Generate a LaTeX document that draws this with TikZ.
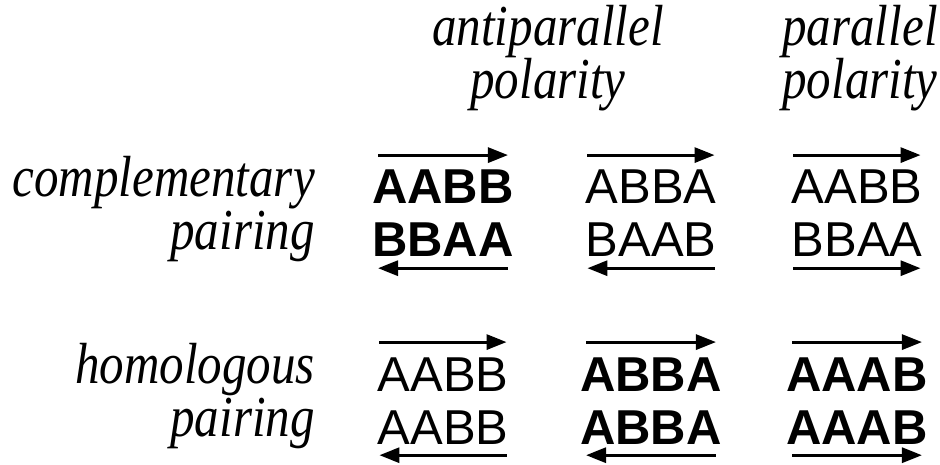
\documentclass[tikz,border=0pt]{standalone}
\usepackage{fontspec}
\setmainfont{Liberation Serif}
\setsansfont{Liberation Sans}
\newfontfamily\narrowserif{Liberation Serif}[FakeStretch=0.845]
\usetikzlibrary{arrows.meta}

\begin{document}
\begin{tikzpicture}[x=1pt,y=-1pt,
  head/.style={font=\fontsize{58}{47}\selectfont\narrowserif\itshape,inner sep=0pt,align=center,anchor=base},
  lbl/.style={font=\fontsize{58}{53}\selectfont\narrowserif\itshape,inner sep=0pt,align=right,anchor=base east},
  seq/.style={font=\fontsize{49}{49}\selectfont\sffamily,inner sep=0pt,anchor=base},
  bseq/.style={font=\fontsize{49}{49}\selectfont\sffamily\bfseries,inner sep=0pt,anchor=base},
  strand/.style={line width=3pt,-{Triangle[length=20pt,width=15pt]}}]
\useasboundingbox (0,0) rectangle (940,465);

% column and row headings (base = last line)
\node (anti) at (548,99)[head] {antiparallel\\polarity};
\node (para) at (860,99)[head] {parallel\\polarity};
\node (comp) at (315,250)[lbl] {complementary\\pairing};
\node (homo) at (315,436)[lbl] {homologous\\pairing};

% complementary pairing
\node (c1t) at (443,204)[bseq] {AABB};
\node (c1b) at (443,257)[bseq] {BBAA};
\node (c2t) at (651,204)[seq] {ABBA};
\node (c2b) at (651,257)[seq] {BAAB};
\node (c3t) at (857,204)[seq] {AABB};
\node (c3b) at (857,257)[seq] {BBAA};

% homologous pairing
\node (h1t) at (443,391)[seq] {AABB};
\node (h1b) at (443,444)[seq] {AABB};
\node (h2t) at (651,391)[bseq] {ABBA};
\node (h2b) at (651,444)[bseq] {ABBA};
\node (h3t) at (857,391)[bseq] {AAAB};
\node (h3b) at (857,444)[bseq] {AAAB};

% strand directions
\draw [strand] ([xshift=6pt,yshift=15pt]c1t.north west) -- ([xshift=-6pt,yshift=15pt]c1t.north east);
\draw [strand] ([xshift=-6pt,yshift=-11pt]c1b.south east) -- ([xshift=6pt,yshift=-11pt]c1b.south west);
\draw [strand] ([xshift=2pt,yshift=15pt]c2t.north west) -- ([xshift=-2pt,yshift=15pt]c2t.north east);
\draw [strand] ([xshift=-2pt,yshift=-11pt]c2b.south east) -- ([xshift=2pt,yshift=-11pt]c2b.south west);
\draw [strand] ([xshift=2pt,yshift=15pt]c3t.north west) -- ([xshift=-2pt,yshift=15pt]c3t.north east);
\draw [strand] ([xshift=2pt,yshift=-11pt]c3b.south west) -- ([xshift=-2pt,yshift=-11pt]c3b.south east);
\draw [strand] ([xshift=2pt,yshift=15pt]h1t.north west) -- ([xshift=-2pt,yshift=15pt]h1t.north east);
\draw [strand] ([xshift=-2pt,yshift=-11pt]h1b.south east) -- ([xshift=2pt,yshift=-11pt]h1b.south west);
\draw [strand] ([xshift=6pt,yshift=15pt]h2t.north west) -- ([xshift=-6pt,yshift=15pt]h2t.north east);
\draw [strand] ([xshift=-6pt,yshift=-11pt]h2b.south east) -- ([xshift=6pt,yshift=-11pt]h2b.south west);
\draw [strand] ([xshift=6pt,yshift=15pt]h3t.north west) -- ([xshift=-6pt,yshift=15pt]h3t.north east);
\draw [strand] ([xshift=6pt,yshift=-11pt]h3b.south west) -- ([xshift=-6pt,yshift=-11pt]h3b.south east);
\end{tikzpicture}
\end{document}
